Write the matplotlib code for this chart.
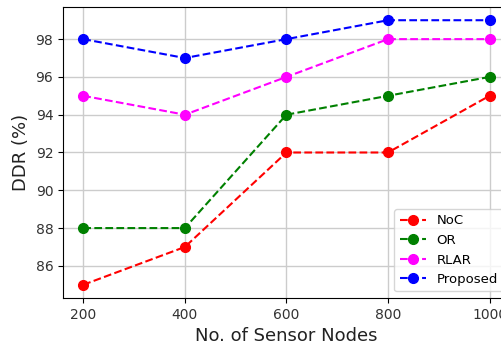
import matplotlib.pyplot as plt

nodes = [200, 400, 600, 800, 1000]
noc = [85, 87, 92, 92, 95]
or_ = [88, 88, 94, 95, 96]
rlar = [95, 94, 96, 98, 98]
proposed = [98, 97, 98, 99, 99]

fig = plt.figure(figsize=(5.01, 3.5), dpi=100)
ax = fig.add_axes([0.1257, 0.1486, 0.892, 0.8314])

ax.plot(nodes, noc, "--o", color="#ff0000", label="NoC", markersize=7)
ax.plot(nodes, or_, "--o", color="#008000", label="OR", markersize=7)
ax.plot(nodes, rlar, "--o", color="#ff00ff", label="RLAR", markersize=7)
ax.plot(nodes, proposed, "--o", color="#0000ff", label="Proposed", markersize=7)

ax.set_xticks(nodes)
ax.set_yticks([86, 88, 90, 92, 94, 96, 98])
ax.tick_params(labelsize=10, labelcolor="#333333")
ax.grid(True, color="#cccccc", linewidth=1)
ax.set_xlabel("No. of Sensor Nodes", fontsize=13, color="#222222")
ax.set_ylabel("DDR (%)", fontsize=13, color="#222222")
ax.legend(loc="lower right", fontsize=9.5)

fig.savefig("out.png", dpi=100)
